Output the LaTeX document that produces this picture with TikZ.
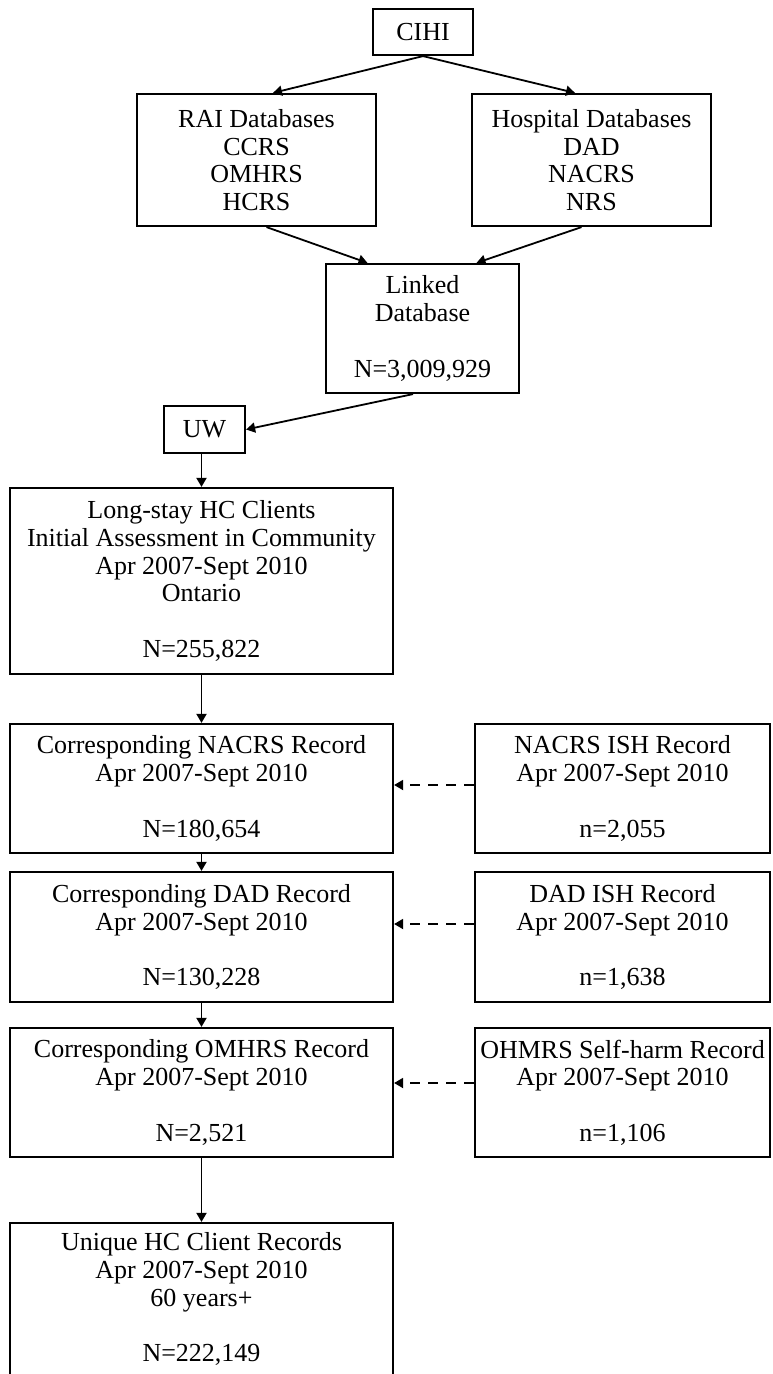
\documentclass[tikz,border=0pt]{standalone}
\usepackage{fontspec}
\setmainfont{Liberation Serif}
\usetikzlibrary{arrows.meta,calc}
\begin{document}
\begin{tikzpicture}[x=0.5pt,y=-0.5pt,
  box/.style={draw, line width=1.1pt, inner sep=0pt, align=center,
    font=\fontsize{13}{13.85}\selectfont},
  wide/.style={box, minimum width=191.5pt},
  side/.style={box, minimum width=147.5pt},
  arr/.style={line width=0.9pt, -{Triangle[length=4.5pt,width=5pt]}},
  dasharr/.style={arr, dash pattern=on 5pt off 4pt}]
\useasboundingbox (0,0) rectangle (772,1374);
\fill[white] (0,0) rectangle (772,1374);
\node[box, minimum width=50pt, minimum height=23pt] (cihi) at (423,32) {CIHI};
\node[box, minimum width=119.5pt, minimum height=66pt] (rai) at (256.5,160)
  {RAI Databases\\CCRS\\OMHRS\\HCRS};
\node[box, minimum width=119.5pt, minimum height=66pt] (hosp) at (591.5,160)
  {Hospital Databases\\DAD\\NACRS\\NRS};
\node[box, minimum width=96.5pt, minimum height=64.5pt] (linked) at (422.5,328.5)
  {Linked\\Database\\[13.85pt]N=3,009,929};
\node[box, minimum width=40.5pt, minimum height=23.5pt] (uw) at (204.5,429.5) {UW};
\node[wide, minimum height=93pt] (long) at (201.5,581)
  {Long-stay HC Clients\\Initial Assessment in Community\\Apr 2007-Sept 2010\\Ontario\\[13.85pt]N=255,822};
\node[wide, minimum height=64.5pt] (nacrs) at (201.5,788.5)
  {Corresponding NACRS Record\\Apr 2007-Sept 2010\\[13.85pt]N=180,654};
\node[side, minimum height=64.5pt] (nish) at (622.5,788.5)
  {NACRS ISH Record\\Apr 2007-Sept 2010\\[13.85pt]n=2,055};
\node[wide, minimum height=65pt] (dad) at (201.5,937)
  {Corresponding DAD Record\\Apr 2007-Sept 2010\\[13.85pt]N=130,228};
\node[side, minimum height=65pt] (dish) at (622.5,937)
  {DAD ISH Record\\Apr 2007-Sept 2010\\[13.85pt]n=1,638};
\node[wide, minimum height=64.5pt] (omh) at (201.5,1092.5)
  {Corresponding OMHRS Record\\Apr 2007-Sept 2010\\[13.85pt]N=2,521};
\node[side, minimum height=64.5pt] (oish) at (622.5,1092.5)
  {OHMRS Self-harm Record\\Apr 2007-Sept 2010\\[13.85pt]n=1,106};
\node[wide, minimum height=76pt] (uniq) at (201.5,1299)
  {Unique HC Client Records\\Apr 2007-Sept 2010\\60 years+\\[13.85pt]N=222,149};
% connectors
\draw[arr] (cihi.south) -- ($(rai.north)+(16.5,0)$);
\draw[arr] (cihi.south) -- ($(hosp.north)+(-16.5,0)$);
\draw[arr] ($(rai.south)+(10,0)$) -- ($(linked.north)+(-55,0)$);
\draw[arr] ($(hosp.south)+(-10,0)$) -- ($(linked.north)+(54,0)$);
\draw[arr] ($(linked.south)+(-9.5,0)$) -- (uw.east);
\draw[arr] (uw.south -| long.north) -- (long.north);
\draw[arr] (long.south) -- (nacrs.north);
\draw[arr] (nacrs.south) -- (dad.north);
\draw[arr] (dad.south) -- (omh.north);
\draw[arr] (omh.south) -- (uniq.north);
\draw[dasharr] ($(nish.west)+(0,-3.5)$) -- ($(nacrs.east)+(0,-3.5)$);
\draw[dasharr] ($(dish.west)+(0,-13)$) -- ($(dad.east)+(0,-13)$);
\draw[dasharr] ($(oish.west)+(0,-9.5)$) -- ($(omh.east)+(0,-9.5)$);
\end{tikzpicture}
\end{document}
